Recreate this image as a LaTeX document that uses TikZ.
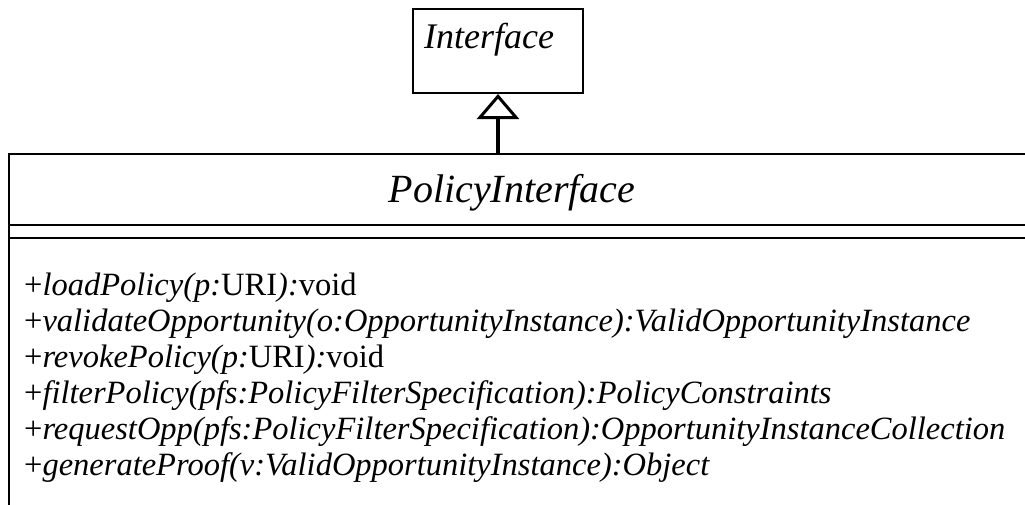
\documentclass[tikz,border=0pt]{standalone}
\usepackage{fontspec}
\setmainfont{Liberation Serif}
\usetikzlibrary{arrows.meta,positioning}

\tikzset{
  umlbox/.style={draw, line width=2pt, inner sep=0pt},
  member/.style={anchor=base west, inner sep=0pt, font=\fontsize{32.5}{36}\selectfont},
  realizes/.style={line width=4pt, -{Triangle[open, length=25pt, width=42pt, line width=3pt]}}
}

\begin{document}
\begin{tikzpicture}[x=1pt,y=-1pt,line join=miter]
  \useasboundingbox (0,0) rectangle (1025,504);
  \clip (0,0) rectangle (1025,504);
  % interface box
  \node[umlbox, anchor=north west, minimum width=170pt, minimum height=84pt] (iface) at (412,8) {};
  \node[anchor=base, inner sep=0pt, font=\fontsize{36}{43}\selectfont\itshape] (ifacename) at (489,48) {Interface};
  % class box, runs off the page on the right and bottom
  \node[umlbox, anchor=north west, minimum width=1040pt, minimum height=400pt] (cls) at (8,153) {};
  \node[anchor=base, inner sep=0pt, font=\fontsize{40}{48}\selectfont\itshape] (clsname) at (512,202) {PolicyInterface};
  \draw[line width=2pt] (8,225) -- (1040,225);
  \draw[line width=2pt] (8,238) -- (1040,238);
  % operations
  \node[member] (op1) at (24,295) {+\textit{loadPolicy(p:}URI\textit{):}void};
  \node[member] (op2) at (24,331) {+\textit{validateOpportunity(o:OpportunityInstance):ValidOpportunityInstance}};
  \node[member] (op3) at (24,367) {+\textit{revokePolicy(p:}URI\textit{):}void};
  \node[member] (op4) at (24,403) {+\textit{filterPolicy(pfs:PolicyFilterSpecification):PolicyConstraints}};
  \node[member] (op5) at (24,439) {+\textit{requestOpp(pfs:PolicyFilterSpecification):OpportunityInstanceCollection}};
  \node[member] (op6) at (24,475) {+\textit{generateProof(v:ValidOpportunityInstance):Object}};
  % realization
  \coordinate (stem) at (iface.south |- cls.north);
  \draw[realizes] (stem) -- (iface.south);
\end{tikzpicture}
\end{document}
